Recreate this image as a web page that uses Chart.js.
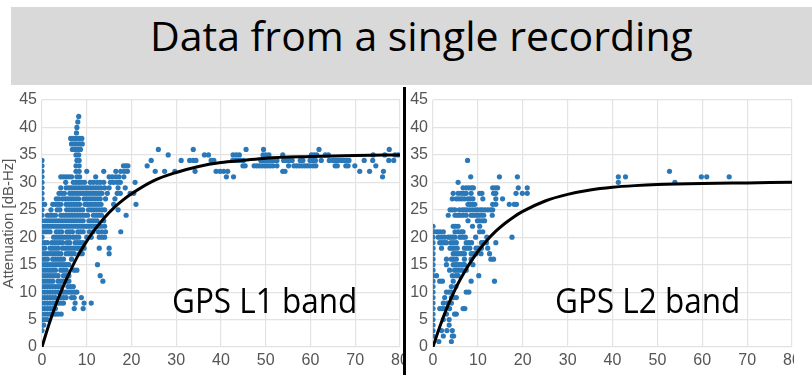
<!DOCTYPE html>
<html>
<head>
<meta charset="utf-8">
<script src="https://cdn.jsdelivr.net/npm/chart.js@4.4.1/dist/chart.umd.min.js"></script>
<style>
  body { margin: 0; width: 812px; height: 375px; background: #fff; position: relative; overflow: hidden; }
  .banner { position: absolute; left: 11px; top: 7px; width: 801px; height: 78px; background: #d9d9d9; }
  .banner span { position: absolute; left: 139px; top: 0; line-height: 78px; font: 41px "Open Sans", sans-serif; color: #000; white-space: nowrap; }
  .box { position: absolute; top: 90px; height: 285px; }
  .band { position: absolute; top: 282px; font: 35px/35px "Open Sans", sans-serif; color: #000; white-space: nowrap;
          transform: scaleX(0.9); transform-origin: left top; }
  .divider { position: absolute; left: 403px; top: 87px; width: 3px; height: 288px; background: #000; }
  .mask { position: absolute; left: 794px; top: 88px; width: 18px; height: 287px; background: #fff; }
</style>
</head>
<body>
<div class="banner"><span>Data from a single recording</span></div>
<div class="box" style="left:0;width:404px"><canvas id="l1_chart" width="404" height="285"></canvas></div>
<div class="box" style="left:408px;width:388px"><canvas id="l2_chart" width="388" height="285"></canvas></div>
<div class="mask"></div>
<div class="divider"></div>
<div class="band" style="left:172px">GPS L1 band</div>
<div class="band" style="left:555px">GPS L2 band</div>

<script>
// measured points, one row per attenuation level: [y, [x, x, ...]]
const l1Rows = [
    [42, [8.2]],
    [41, [8.0]],
    [40, [7.8]],
    [39, [7.7]],
    [38, [6.4, 7.0, 7.6, 8.3, 8.9]],
    [37, [6.6, 7.2, 7.8, 8.4, 9.0]],
    [36, [6.8, 7.4, 8.0, 8.6, 26.0, 33.8, 45.6, 49.5, 61.9, 77.6]],
    [35, [7.6, 8.2, 28.2, 36.3, 37.2, 42.7, 43.4, 44.1, 49.4, 50.0, 50.7, 53.8, 60.2, 60.8, 61.4, 63.3, 64.0, 74.0, 76.6, 78.9, 79.6]],
    [34, [0, 7.8, 8.3, 24.4, 31.1, 33.0, 33.8, 34.4, 37.8, 38.4, 42.6, 43.2, 43.8, 44.4, 45.0, 48.9, 49.5, 50.1, 50.7, 51.3, 51.9, 52.5,
          54.0, 54.6, 55.3, 55.9, 57.7, 58.3, 59.9, 60.5, 61.1, 62.4, 64.2, 65.0, 65.6, 66.2, 66.8, 67.4, 68.0, 68.6, 72.0, 73.9, 77.5, 78.6]],
    [33, [0, 7.6, 8.3, 18.2, 18.7, 19.2, 23.5, 44.9, 45.4, 47.4, 48.0, 48.6, 49.2, 49.8, 50.4, 51.0, 51.6, 52.5, 55.1, 56.3, 56.9,
          57.5, 58.1, 58.7, 59.3, 59.9, 60.6, 61.2, 65.5, 66.0, 67.9, 68.4, 69.9, 74.6]],
    [32, [0, 7.6, 8.3, 10.0, 13.8, 16.5, 17.6, 18.4, 19.1, 25.3, 27.4, 29.7, 34.2, 38.9, 39.8, 40.6, 41.5, 53.8, 54.3, 71.0, 73.2, 76.3]],
    [31, [0, 4.2, 4.8, 5.4, 6.0, 6.6, 7.8, 8.4, 12.0, 15.0, 15.7, 16.5, 17.2, 18.3, 41.2, 42.8, 76.1]],
    [30, [0, 5.3, 7.0, 7.6, 8.2, 8.8, 9.5, 10.8, 11.5, 12.3, 13.0, 13.8, 15.3, 16.0, 16.8, 17.5, 20.8]],
    [29, [0, 4.2, 5.4, 6.0, 6.6, 7.2, 7.8, 8.4, 9.0, 9.6, 10.2, 10.8, 11.4, 12.0, 12.6, 13.2, 14.0, 15.0, 17.0, 18.6]],
    [28, [0, 3.8, 4.4, 5.0, 6.2, 6.8, 7.4, 8.0, 8.6, 9.2, 9.8, 10.4, 11.0, 11.6, 12.2, 12.8, 13.4, 14.6, 16.8, 17.5, 19.7, 20.5]],
    [27, [0, 3.2, 3.8, 4.6, 5.2, 5.8, 6.4, 7.0, 7.6, 8.2, 9.4, 10.0, 10.6, 11.2, 11.8, 12.4, 13.0, 14.2, 16.3]],
    [26, [0, 0.6, 2.4, 3.0, 3.6, 4.2, 5.4, 6.0, 6.6, 7.2, 7.8, 8.4, 9.6, 10.2, 10.8, 11.4, 12.0, 12.6, 13.2, 16.0, 21.0]],
    [25, [0, 2.0, 3.4, 4.0, 5.5, 6.1, 6.7, 7.3, 7.9, 8.5, 9.1, 10.4, 11.0, 11.6, 12.2, 12.8, 13.4, 14.0, 17.0]],
    [24, [0, 1.2, 1.8, 2.4, 3.0, 4.2, 4.8, 5.4, 6.0, 6.6, 7.2, 7.8, 8.4, 9.0, 9.6, 10.2, 11.5, 12.1, 12.7, 13.3, 18.8]],
    [23, [0, 0.8, 1.4, 2.0, 2.6, 3.2, 3.8, 4.4, 5.0, 5.6, 6.2, 6.8, 7.4, 8.0, 8.6, 9.2, 10.5, 11.1, 11.7, 12.3, 13.8]],
    [22, [0, 0.6, 1.2, 1.8, 2.4, 3.0, 3.6, 4.2, 4.8, 5.4, 6.0, 6.6, 7.2, 7.8, 8.4, 9.0, 9.6, 10.2, 10.8, 11.4, 12.0, 12.6, 13.2, 14.0]],
    [21, [0, 0.6, 1.2, 1.8, 3.2, 3.8, 4.4, 5.6, 6.2, 6.8, 8.0, 8.6, 9.2, 10.6, 11.4, 12.6, 13.4, 14.2, 17.6]],
    [20, [0, 2.6, 3.2, 3.8, 4.4, 5.0, 5.6, 6.2, 7.0, 7.6, 8.2, 10.0, 11.0, 12.8, 13.4, 14.0]],
    [19, [0, 0.6, 1.2, 2.2, 2.8, 3.4, 4.0, 4.6, 5.6, 6.2, 7.4, 8.0, 8.6, 9.2]],
    [18, [0, 0.6, 1.8, 2.4, 3.0, 3.6, 4.6, 5.2, 5.8, 6.4, 7.0, 7.6, 8.2, 8.8, 9.4, 12.8, 15.0]],
    [17, [0, 0.6, 1.2, 1.8, 2.4, 3.0, 3.6, 4.2, 5.4, 6.0, 6.6, 7.2, 8.4, 9.0, 15.0]],
    [16, [0, 0.6, 1.2, 2.4, 3.0, 3.6, 4.2, 4.8, 6.6]],
    [15, [0, 0.6, 1.2, 1.8, 2.4, 3.0, 3.6, 4.2, 4.8, 5.4, 6.0, 12.4]],
    [14, [0, 0.6, 1.2, 1.8, 2.4, 3.0, 4.2, 4.8, 5.4, 7.2, 7.8]],
    [13, [0, 0.6, 1.2, 1.8, 2.4, 3.0, 3.6, 4.8, 5.4, 6.0, 13.0]],
    [12, [0, 0.6, 1.2, 1.8, 2.4, 3.6, 4.2, 4.8, 5.4, 6.0, 13.6]],
    [11, [0, 0.6, 1.2, 1.8, 2.4, 3.0, 3.6, 4.2, 5.8, 6.4, 7.0]],
    [10, [0, 0.6, 1.2, 1.8, 2.4, 3.0, 3.6, 4.2, 4.8, 5.4, 6.0, 6.6, 7.2, 7.8]],
    [9, [0, 0.6, 1.2, 1.8, 2.4, 3.0, 4.2, 4.8, 5.4, 6.6, 7.2, 8.8]],
    [8, [0, 0.6, 1.2, 1.8, 2.4, 3.0, 3.6, 4.2, 4.8, 7.4, 9.4, 11.0]],
    [7, [0, 0.6, 1.2, 1.8, 2.4, 3.0, 7.2, 9.2]],
    [6, [0, 0.6, 1.2, 1.8, 2.4, 3.0, 3.6, 4.3]],
    [5, [0, 0.6, 1.2]],
    [4, [0, 0.4]],
    [3, [0]]
];

const l2Rows = [
    [34, [7.7]],
    [32, [52.7]],
    [31, [8.4, 14.8, 18.8, 41.3, 42.9, 59.8, 61.0, 66.0]],
    [30, [5.6, 41.3, 53.9]],
    [29, [6.7, 7.4, 8.0, 8.6, 9.0, 13.3, 13.9, 14.4, 19.0, 21.0]],
    [28, [4.5, 5.6, 6.3, 6.9, 7.4, 8.5, 10.4, 10.9, 13.5, 14.0, 18.5, 19.9, 21.0]],
    [27, [4.3, 5.2, 5.8, 6.4, 7.0, 7.8, 8.3, 8.9, 11.1, 14.0, 15.5]],
    [26, [7.8, 8.3, 8.8, 9.3, 13.3, 14.0, 17.0, 18.1, 18.6]],
    [25, [3.8, 4.3, 4.9, 5.9, 6.6, 7.1, 7.6, 8.2, 8.8, 9.4, 9.9, 10.5, 11.0, 11.6, 12.2, 12.8, 13.3]],
    [24, [3.4, 4.9, 5.5, 6.1, 6.7, 7.4, 8.5, 9.0, 9.6, 10.1, 10.7, 11.3, 13.2]],
    [23, [7.8, 9.9, 10.4, 11.0, 11.5]],
    [22, [0, 4.5, 5.0, 5.6, 8.8, 10.4]],
    [21, [0, 0.4, 1.0, 1.6, 2.3, 4.9, 5.6, 6.3, 6.7, 10.4, 11.1]],
    [20, [0, 1.2, 1.9, 2.6, 3.4, 3.9, 4.4, 4.9, 6.0, 6.6, 7.2, 9.5, 12.0, 17.6]],
    [19, [0, 1.5, 2.0, 2.5, 3.0, 4.0, 4.6, 5.2, 7.4, 8.0, 8.6, 10.8, 11.3, 11.9, 14.0]],
    [18, [0, 1.9, 3.8, 4.3, 4.8, 5.4, 7.0, 7.6, 8.2, 9.6, 10.2, 10.8, 12.2]],
    [17, [0, 4.5, 5.0, 5.5, 6.0, 6.5, 7.0, 8.5, 9.0, 9.6, 10.7, 12.6]],
    [16, [0, 3.0, 4.1, 4.6, 5.2, 7.0, 8.5, 12.9, 13.5]],
    [15, [0, 3.0, 4.5, 5.0, 5.5, 6.0, 6.6, 7.0, 8.9]],
    [14, [0, 3.7, 4.8, 5.3, 5.8, 6.4, 7.4]],
    [13, [0, 0.8, 4.3, 5.1, 5.6, 10.2]],
    [12, [0, 1.5, 2.1, 4.5, 8.5, 13.7]],
    [11, [0, 4.1, 5.1]],
    [10, [0, 3.0, 3.6, 4.1, 7.4, 8.0]],
    [9, [0, 2.6, 4.1, 4.6, 5.2]],
    [8, [0, 2.3, 3.2, 4.1]],
    [7, [0, 1.5, 2.0, 2.6, 3.7, 6.7, 7.1]],
    [6, [0, 3.0, 4.8, 5.2]],
    [5, [0, 2.3, 3.6]],
    [4, [0, 3.6]],
    [3, [0, 1.9, 3.1, 4.3]],
    [2, [0, 2.3, 4.3, 4.6]],
    [1, [1.3, 4.1]]
];

// fitted curves
const fitX = [0, 1, 2, 3, 4, 5, 6, 8, 10, 12, 14, 16, 18, 20, 25, 30, 35, 40, 45, 50, 60, 70, 80];
const l1Fit = [0, 2.7, 5.2, 7.5, 9.6, 11.5, 13.3, 16.6, 19.3, 21.6, 23.6, 25.3, 26.7, 27.9, 30.3, 31.8, 32.9, 33.6, 34.0, 34.4, 34.7, 34.9, 35.0];
const l2Fit = [0, 2.5, 4.8, 6.9, 8.8, 10.6, 12.2, 15.0, 17.4, 19.4, 21.1, 22.5, 23.7, 24.7, 26.6, 27.8, 28.6, 29.1, 29.4, 29.6, 29.8, 29.9, 30.0];

const xTicks = { min: 0, max: 80, step: 10 };
const yTicks = { min: 0, max: 45, step: 5 };

const DOT_COLOR = '#2a78b8';
const GRID_COLOR = '#e3e3e3';
const TICK_FONT = { family: '"Liberation Sans", Arial, sans-serif', size: 16 };

function toPoints(rows) {
    var pts = [];
    rows.forEach(function (row) {
        row[1].forEach(function (x) { pts.push({ x: x, y: row[0] }); });
    });
    return pts;
}

function fitPoints(ys) {
    return fitX.map(function (x, i) { return { x: x, y: ys[i] }; });
}

function makeChart(id, rows, fit, yWidth, showTitle) {
    var ctx = document.getElementById(id).getContext('2d');
    return new Chart(ctx, {
        type: 'scatter',
        data: {
            datasets: [{
                type: 'line',
                data: fitPoints(fit),
                borderColor: '#000',
                borderWidth: 3,
                pointRadius: 0,
                cubicInterpolationMode: 'monotone',
                fill: false,
                order: 0
            }, {
                data: toPoints(rows),
                backgroundColor: DOT_COLOR,
                borderWidth: 0,
                pointRadius: 2.6,
                order: 1
            }]
        },
        options: {
            responsive: false,
            animation: false,
            devicePixelRatio: 1,
            layout: { padding: { top: 10, right: 0, bottom: 0, left: 0 } },
            plugins: { legend: { display: false }, tooltip: { enabled: false } },
            scales: {
                x: {
                    type: 'linear',
                    min: xTicks.min, max: xTicks.max,
                    ticks: { stepSize: xTicks.step, color: '#555', font: TICK_FONT, padding: 4, maxRotation: 0 },
                    grid: { color: GRID_COLOR, lineWidth: 1.2, drawTicks: false },
                    border: { display: false },
                    afterFit: function (scale) {
                        scale.height = 28;
                        scale.paddingLeft = 0;
                        scale.paddingRight = 0;
                    }
                },
                y: {
                    type: 'linear',
                    min: yTicks.min, max: yTicks.max,
                    ticks: { stepSize: yTicks.step, color: '#555', font: TICK_FONT, padding: 5 },
                    grid: { color: GRID_COLOR, lineWidth: 1.2, drawTicks: false },
                    border: { display: false },
                    title: {
                        display: showTitle,
                        text: 'Attenuation [dB-Hz]',
                        color: '#555',
                        font: { family: '"Liberation Sans", Arial, sans-serif', size: 15 },
                        padding: { top: 0, bottom: 0 }
                    },
                    afterFit: function (scale) {
                        scale.width = yWidth;
                        scale.paddingTop = 0;
                        scale.paddingBottom = 0;
                    }
                }
            }
        }
    });
}

makeChart('l1_chart', l1Rows, l1Fit, 42, true);
makeChart('l2_chart', l2Rows, l2Fit, 25, false);
</script>
</body>
</html>
